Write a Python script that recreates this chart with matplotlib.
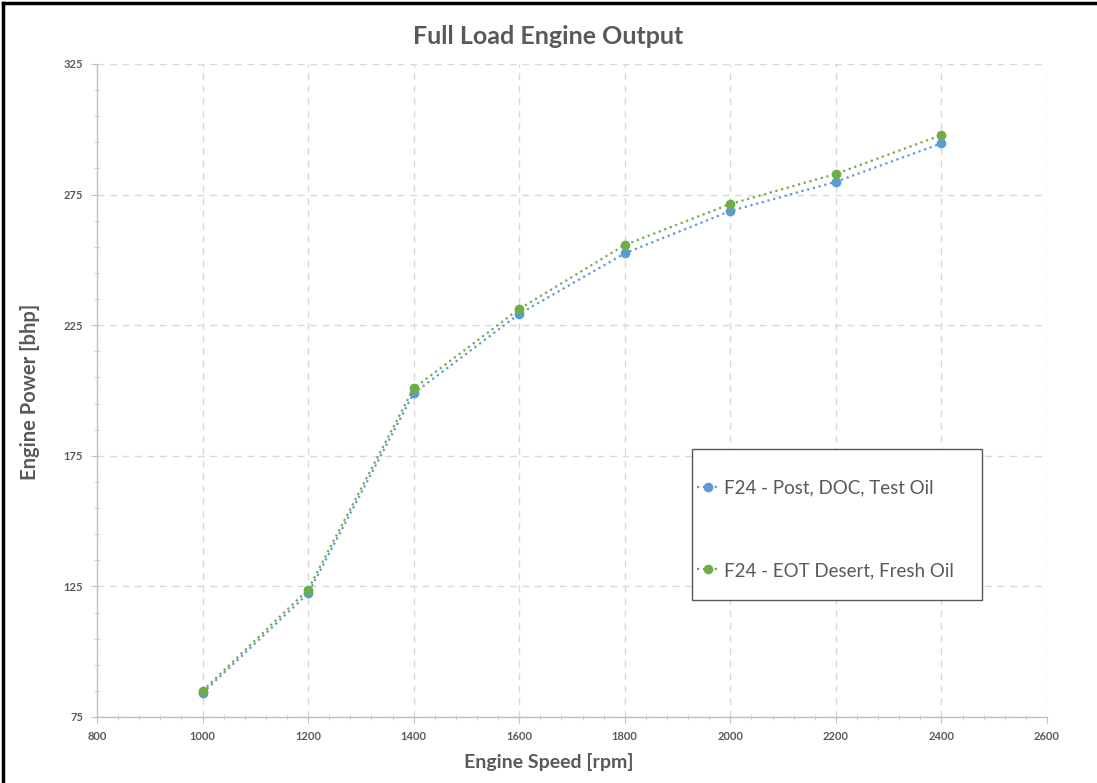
import numpy as np
import matplotlib
matplotlib.use('Agg')
import matplotlib.pyplot as plt
from matplotlib.lines import Line2D
from matplotlib.patches import Rectangle
from matplotlib.ticker import MultipleLocator

plt.rcParams['font.family'] = ['Lato', 'DejaVu Sans']

# --- Data ---
speed = [1000, 1200, 1400, 1600, 1800, 2000, 2200, 2400]
power_post = [84.2, 122.3, 198.9, 229.3, 252.5, 268.7, 279.9, 294.6]
power_eot = [85.0, 123.8, 200.8, 231.2, 255.7, 271.4, 282.9, 297.8]
label_post = 'F24 - Post, DOC, Test Oil'
label_eot = 'F24 - EOT Desert, Fresh Oil'
x_ticks = [800, 1000, 1200, 1400, 1600, 1800, 2000, 2200, 2400, 2600]
y_ticks = [75, 125, 175, 225, 275, 325]

BLUE = '#5B9BD5'
GREEN = '#70AD47'
TXT = '#595959'
GRID = '#d9d9d9'

fig = plt.figure(figsize=(10.97, 7.83), dpi=100)
ax = fig.add_axes([0.0884, 0.0843, 0.866, 0.834])

ax.plot(speed, power_post, linestyle=':', color=BLUE, lw=1.6, marker='o',
        markersize=6, label=label_post, zorder=3)
ax.plot(speed, power_eot, linestyle=':', color=GREEN, lw=1.6, marker='o',
        markersize=6, label=label_eot, zorder=4)

ax.set_xlim(800, 2600)
ax.set_ylim(75, 325)
ax.set_xticks(x_ticks)
ax.set_yticks(y_ticks)
ax.xaxis.set_minor_locator(MultipleLocator(40))
ax.yaxis.set_minor_locator(MultipleLocator(10, offset=5))

ax.grid(True, which='major', color=GRID, linestyle=(0, (5, 4)), lw=1.0, zorder=0)
for s in ['top', 'right']:
    ax.spines[s].set_visible(False)
for s in ['left', 'bottom']:
    ax.spines[s].set_color('#bfbfbf')
    ax.spines[s].set_linewidth(1.0)

ax.tick_params(which='major', direction='out', length=4, color='#bfbfbf',
               labelsize=8, labelcolor=TXT, pad=6)
ax.tick_params(which='minor', direction='inout', length=4, color='#d0d0d0')
for lab in ax.get_xticklabels() + ax.get_yticklabels():
    lab.set_fontweight('bold')

# legend box drawn separately so the padding can differ per side
ax.add_patch(Rectangle((0.626, 0.179), 0.306, 0.231, transform=ax.transAxes,
                       facecolor='white', edgecolor='#595959', lw=1.0, zorder=5))
leg = ax.legend(loc='upper left', bbox_to_anchor=(0.632, 0.364),
                fontsize=13.5, labelspacing=3.5, borderpad=0,
                handlelength=1.1, handletextpad=0.32, frameon=False,
                borderaxespad=0)
leg.set_zorder(6)
for t in leg.get_texts():
    t.set_color(TXT)

fig.text(0.5, 0.953, 'Full Load Engine Output', ha='center', va='center',
         fontsize=18, fontweight='bold', color=TXT)
fig.text(0.5, 0.027, 'Engine Speed [rpm]', ha='center', va='center',
         fontsize=14, fontweight='bold', color=TXT)
fig.text(0.027, 0.5, 'Engine Power [bhp]', ha='center', va='center',
         rotation=90, fontsize=14.5, fontweight='bold', color=TXT)

# black frame on left and top edges of the picture
fig.add_artist(Line2D([0.003, 0.003], [0, 0.996], transform=fig.transFigure,
                      color='black', lw=2.5))
fig.add_artist(Line2D([0.003, 1.0], [0.996, 0.996], transform=fig.transFigure,
                      color='black', lw=2.5))

fig.savefig('out.png', dpi=100)
